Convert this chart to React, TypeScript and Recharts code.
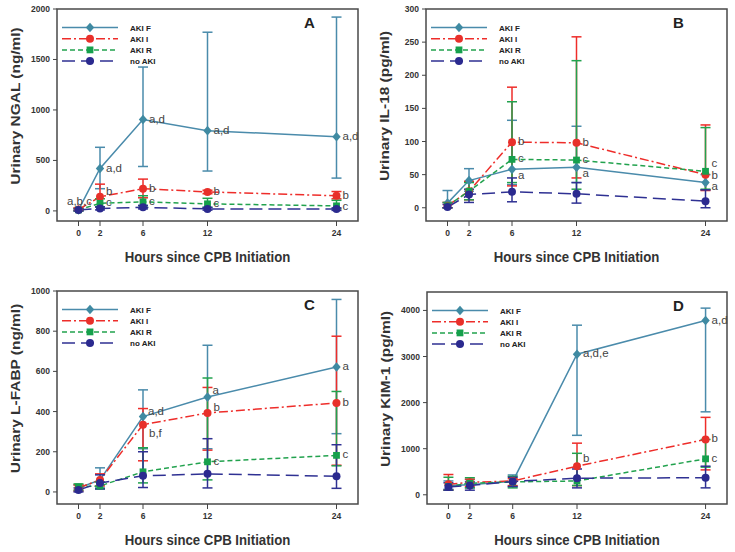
import React from 'react';
import { LineChart, Line, XAxis, YAxis, ErrorBar, ReferenceArea, LabelList } from 'recharts';

const FONT = '"Liberation Sans", Arial, Helvetica, sans-serif';

const HOURS = [0, 2, 6, 12, 24];
const HOUR_TICKS = [0, 2, 6, 12, 24];
const X_DOMAIN = [-2, 26];

// Panel A – urinary NGAL (ng/ml)
const NGAL_F = [10, 420, 905, 795, 735];
const NGAL_F_HI = [30, 630, 1425, 1770, 1920];
const NGAL_F_LO = [0, 220, 440, 395, 325];
const NGAL_I = [15, 140, 220, 188, 150];
const NGAL_I_HI = [30, 265, 315, 205, 192];
const NGAL_I_LO = [5, 40, 130, 170, 120];
const NGAL_R = [10, 75, 90, 70, 50];
const NGAL_R_HI = [20, 120, 150, 125, 105];
const NGAL_R_LO = [0, 40, 50, 35, 20];
const NGAL_N = [10, 25, 35, 20, 18];
const NGAL_N_HI = [20, 40, 55, 35, 30];
const NGAL_N_LO = [0, 10, 20, 8, 5];
const NGAL_F_LAB = ['a,b,c', 'a,d', 'a,d', 'a,d', 'a,d'];
const NGAL_I_LAB = ['', 'b', 'b', 'b', 'b'];
const NGAL_R_LAB = ['', 'c', 'c', 'c', 'c'];

// Panel B – urinary IL-18 (pg/ml)
const IL18_F = [7, 41, 58, 61, 38];
const IL18_F_HI = [26, 59, 132, 123, 50];
const IL18_F_LO = [0, 25, 35, 38, 27];
const IL18_I = [3, 25, 99, 98, 50];
const IL18_I_HI = [8, 40, 182, 258, 125];
const IL18_I_LO = [0, 12, 33, 45, 26];
const IL18_R = [3, 25, 73, 72, 55];
const IL18_R_HI = [8, 38, 160, 222, 121];
const IL18_R_LO = [0, 12, 38, 28, 28];
const IL18_N = [1, 20, 24, 21, 10];
const IL18_N_HI = [5, 28, 45, 38, 27];
const IL18_N_LO = [0, 8, 9, 7, 0];
const IL18_F_LAB = ['', '', 'a', 'a', 'a'];
const IL18_I_LAB = ['', '', 'b', 'b', 'b'];
const IL18_R_LAB = ['', '', 'c', 'c', 'c'];

// Panel C – urinary L-FABP (ng/ml)
const FABP_F = [20, 60, 375, 472, 622];
const FABP_F_HI = [35, 120, 508, 730, 958];
const FABP_F_LO = [5, 20, 215, 215, 290];
const FABP_I = [20, 60, 335, 393, 443];
const FABP_I_HI = [35, 90, 415, 520, 775];
const FABP_I_LO = [5, 30, 155, 208, 133];
const FABP_R = [25, 30, 100, 150, 182];
const FABP_R_HI = [40, 50, 220, 567, 500];
const FABP_R_LO = [10, 15, 45, 60, 130];
const FABP_N = [10, 45, 80, 90, 78];
const FABP_N_HI = [20, 85, 200, 265, 235];
const FABP_N_LO = [0, 15, 22, 20, 18];
const FABP_F_LAB = ['', '', 'a,d', 'a', 'a'];
const FABP_I_LAB = ['', '', 'b,f', 'b', 'b'];
const FABP_R_LAB = ['', '', '', 'c', 'c'];

// Panel D – urinary KIM-1 (pg/ml)
const KIM_F = [200, 220, 290, 3050, 3780];
const KIM_F_HI = [300, 330, 430, 3680, 4050];
const KIM_F_LO = [120, 150, 180, 1290, 1800];
const KIM_I = [230, 270, 300, 620, 1200];
const KIM_I_HI = [440, 340, 350, 1120, 1680];
const KIM_I_LO = [100, 180, 200, 200, 540];
const KIM_R = [180, 250, 280, 300, 780];
const KIM_R_HI = [380, 370, 400, 900, 1200];
const KIM_R_LO = [100, 150, 150, 200, 600];
const KIM_N = [170, 200, 290, 360, 370];
const KIM_N_HI = [260, 280, 380, 560, 620];
const KIM_N_LO = [100, 100, 180, 150, 150];
const KIM_F_LAB = ['', '', '', 'a,d,e', 'a,d'];
const KIM_I_LAB = ['', '', '', 'b', 'b'];
const KIM_R_LAB = ['', '', '', '', 'c'];

const SERIES_KEYS = ['F', 'I', 'R', 'N'] as const;
type Key = (typeof SERIES_KEYS)[number];

const STYLE: Record<Key, { name: string; color: string; fill: string; marker: string; dash?: string }> = {
  F: { name: 'AKI F', color: '#4a8bab', fill: '#3f8aa2', marker: 'diamond' },
  I: { name: 'AKI I', color: '#ee2d2a', fill: '#e8302a', marker: 'circle', dash: '9 3 2 3' },
  R: { name: 'AKI R', color: '#22a24e', fill: '#16a04c', marker: 'square', dash: '5 3' },
  N: { name: 'no AKI', color: '#2f3193', fill: '#2b2a8f', marker: 'circle', dash: '13 6' },
};

// annotation placement exceptions (default: right of point)
const ANNO_PLACE: Record<string, { dx: number; dy: number; anchor?: string }> = {
  AF0: { dx: 1, dy: -5, anchor: 'middle' },
  AI1: { dx: 6, dy: -2 },
  AR1: { dx: 6, dy: 3 },
  AR4: { dx: 6, dy: 4 },
  BF2: { dx: 6, dy: 10 },
  BF3: { dx: 6, dy: 10 },
  BR4: { dx: 6, dy: -4 },
  BI4: { dx: 6, dy: 4 },
  BF4: { dx: 6, dy: 7 },
  CF2: { dx: 5, dy: -2 },
  CF3: { dx: 5, dy: -3 },
  CI2: { dx: 6, dy: 12 },
  CI3: { dx: 6, dy: -2 },
  DI3: { dx: 6, dy: -4 },
};

type SeriesData = { mean: number[]; hi: number[]; lo: number[]; lab?: string[] };

function buildRows(series: Record<Key, SeriesData>) {
  return HOURS.map((h, i) => {
    const row: any = { hour: h };
    SERIES_KEYS.forEach((k) => {
      const s = series[k];
      row[k] = s.mean[i];
      row[k + 'Err'] = [s.mean[i] - s.lo[i], s.hi[i] - s.mean[i]];
      row[k + 'Lab'] = s.lab ? s.lab[i] : '';
    });
    return row;
  });
}

const ROWS_A = buildRows({
  F: { mean: NGAL_F, hi: NGAL_F_HI, lo: NGAL_F_LO, lab: NGAL_F_LAB },
  I: { mean: NGAL_I, hi: NGAL_I_HI, lo: NGAL_I_LO, lab: NGAL_I_LAB },
  R: { mean: NGAL_R, hi: NGAL_R_HI, lo: NGAL_R_LO, lab: NGAL_R_LAB },
  N: { mean: NGAL_N, hi: NGAL_N_HI, lo: NGAL_N_LO },
});
const ROWS_B = buildRows({
  F: { mean: IL18_F, hi: IL18_F_HI, lo: IL18_F_LO, lab: IL18_F_LAB },
  I: { mean: IL18_I, hi: IL18_I_HI, lo: IL18_I_LO, lab: IL18_I_LAB },
  R: { mean: IL18_R, hi: IL18_R_HI, lo: IL18_R_LO, lab: IL18_R_LAB },
  N: { mean: IL18_N, hi: IL18_N_HI, lo: IL18_N_LO },
});
const ROWS_C = buildRows({
  F: { mean: FABP_F, hi: FABP_F_HI, lo: FABP_F_LO, lab: FABP_F_LAB },
  I: { mean: FABP_I, hi: FABP_I_HI, lo: FABP_I_LO, lab: FABP_I_LAB },
  R: { mean: FABP_R, hi: FABP_R_HI, lo: FABP_R_LO, lab: FABP_R_LAB },
  N: { mean: FABP_N, hi: FABP_N_HI, lo: FABP_N_LO },
});
const ROWS_D = buildRows({
  F: { mean: KIM_F, hi: KIM_F_HI, lo: KIM_F_LO, lab: KIM_F_LAB },
  I: { mean: KIM_I, hi: KIM_I_HI, lo: KIM_I_LO, lab: KIM_I_LAB },
  R: { mean: KIM_R, hi: KIM_R_HI, lo: KIM_R_LO, lab: KIM_R_LAB },
  N: { mean: KIM_N, hi: KIM_N_HI, lo: KIM_N_LO },
});

function Marker({ kind, x, y, color }: { kind: string; x: number; y: number; color: string }) {
  if (kind === 'diamond') {
    return <polygon points={`${x},${y - 4.8} ${x + 4.2},${y} ${x},${y + 4.8} ${x - 4.2},${y}`} fill={color} />;
  }
  if (kind === 'square') {
    return <rect x={x - 3.4} y={y - 3.4} width={6.8} height={6.8} fill={color} />;
  }
  return <circle cx={x} cy={y} r={4} fill={color} />;
}

const makeDot = (k: Key) => (p: any) => {
  const { cx, cy, index } = p;
  if (cx == null || cy == null) return <g key={`d-${k}-${index}`} />;
  return <Marker key={`d-${k}-${index}`} kind={STYLE[k].marker} x={cx} y={cy} color={STYLE[k].fill} />;
};

const makeAnno = (panel: string, k: Key) => (p: any) => {
  const { x, y, value, index } = p;
  if (!value) return null;
  const pl = ANNO_PLACE[`${panel}${k}${index}`] || { dx: 6, dy: 3 };
  return (
    <text
      x={x + pl.dx}
      y={y + pl.dy}
      textAnchor={(pl.anchor as any) || 'start'}
      fontSize={11.5}
      fontFamily={FONT}
      fill="#444"
    >
      {value}
    </text>
  );
};

interface PanelProps {
  id: string;
  left: number;
  top: number;
  width: number;
  height: number;
  margin: { top: number; right: number; left: number; bottom: number };
  yDomain: number[];
  yTicks: number[];
  rows: any[];
  yTitle: string;
}

function Panel({ id, left, top, width, height, margin, yDomain, yTicks, rows, yTitle }: PanelProps) {
  const fx = margin.left;
  const fy = margin.top;
  const fw = width - margin.left - margin.right;
  const fh = height - margin.top - margin.bottom;
  const tickStyle = { fontSize: 8.5, fontWeight: 'bold', fill: '#333', fontFamily: FONT };
  return (
    <div style={{ position: 'absolute', left, top, width, height }}>
      <LineChart width={width} height={height} data={rows} margin={{ top: margin.top, right: margin.right, left: 0, bottom: 0 }}>
        <XAxis
          dataKey="hour"
          type="number"
          domain={X_DOMAIN}
          ticks={HOUR_TICKS}
          interval={0}
          allowDataOverflow
          axisLine={false}
          tickLine={{ stroke: '#444', strokeWidth: 1 }}
          tickSize={5}
          tickMargin={4}
          height={margin.bottom}
          tick={tickStyle}
        />
        <YAxis
          type="number"
          domain={yDomain}
          ticks={yTicks}
          interval={0}
          allowDataOverflow
          axisLine={false}
          tickLine={{ stroke: '#444', strokeWidth: 1 }}
          tickSize={4}
          tickMargin={3}
          width={margin.left}
          tick={tickStyle}
        />
        <ReferenceArea
          x1={X_DOMAIN[0]}
          x2={X_DOMAIN[1]}
          y1={yDomain[0]}
          y2={yDomain[1]}
          fill="none"
          stroke="#4a4a4a"
          strokeWidth={1.5}
        />
        {SERIES_KEYS.map((k) => (
          <Line
            key={k}
            dataKey={k}
            name={STYLE[k].name}
            stroke={STYLE[k].color}
            strokeWidth={1.5}
            strokeDasharray={STYLE[k].dash}
            dot={makeDot(k)}
            activeDot={false}
            isAnimationActive={false}
          >
            <ErrorBar dataKey={k + 'Err'} width={5} stroke={STYLE[k].color} strokeWidth={1.5} direction="y" />
            <LabelList dataKey={k + 'Lab'} content={makeAnno(id, k)} />
          </Line>
        ))}
      </LineChart>
      <svg
        width={width}
        height={height}
        style={{ position: 'absolute', left: 0, top: 0, pointerEvents: 'none' }}
        fontFamily={FONT}
      >
        {SERIES_KEYS.map((k, i) => {
          const ry = fy + 18.5 + i * 11.2;
          return (
            <g key={k}>
              <line x1={fx + 5} x2={fx + 61} y1={ry} y2={ry} stroke={STYLE[k].color} strokeWidth={1.5} strokeDasharray={STYLE[k].dash} />
              <Marker kind={STYLE[k].marker} x={fx + 33} y={ry} color={STYLE[k].fill} />
              <text x={fx + 73} y={ry + 3} fontSize={8} fontWeight="bold" fill="#222">
                {STYLE[k].name}
              </text>
            </g>
          );
        })}
        <text x={fx + fw - 54} y={fy + 19} fontSize={15} fontWeight="bold" fill="#222">
          {id}
        </text>
        <text
          transform={`translate(${fx + fw / 2},${fy + fh + 41}) scale(1,1.17)`}
          textAnchor="middle"
          fontSize={13.2}
          fontWeight="bold"
          fill="#333"
        >
          Hours since CPB Initiation
        </text>
        <text
          transform={`translate(${fx - 42},${fy + fh / 2 - 9}) rotate(-90) scale(1.17,1)`}
          textAnchor="middle"
          dominantBaseline="central"
          fontSize={13.2}
          fontWeight="bold"
          fill="#333"
        >
          {yTitle}
        </text>
      </svg>
    </div>
  );
}

export default function App() {
  return (
    <div style={{ position: 'relative', width: 735, height: 552, background: '#fff', fontFamily: FONT }}>
      <style>{'body{margin:0}'}</style>
      <Panel
        id="A"
        left={0}
        top={0}
        width={367}
        height={276}
        margin={{ top: 9, right: 9, left: 57, bottom: 55 }}
        yDomain={[-100, 2000]}
        yTicks={[0, 500, 1000, 1500, 2000]}
        rows={ROWS_A}
        yTitle="Urinary NGAL (ng/ml)"
      />
      <Panel
        id="B"
        left={367}
        top={0}
        width={368}
        height={276}
        margin={{ top: 9, right: 8, left: 59, bottom: 55 }}
        yDomain={[-20, 300]}
        yTicks={[0, 50, 100, 150, 200, 250, 300]}
        rows={ROWS_B}
        yTitle="Urinary IL-18 (pg/ml)"
      />
      <Panel
        id="C"
        left={0}
        top={276}
        width={367}
        height={276}
        margin={{ top: 15, right: 9, left: 57, bottom: 48 }}
        yDomain={[-60, 1000]}
        yTicks={[0, 200, 400, 600, 800, 1000]}
        rows={ROWS_C}
        yTitle="Urinary L-FABP (ng/ml)"
      />
      <Panel
        id="D"
        left={367}
        top={276}
        width={368}
        height={276}
        margin={{ top: 16, right: 8, left: 60, bottom: 48 }}
        yDomain={[-200, 4400]}
        yTicks={[0, 1000, 2000, 3000, 4000]}
        rows={ROWS_D}
        yTitle="Urinary KIM-1 (pg/ml)"
      />
    </div>
  );
}
